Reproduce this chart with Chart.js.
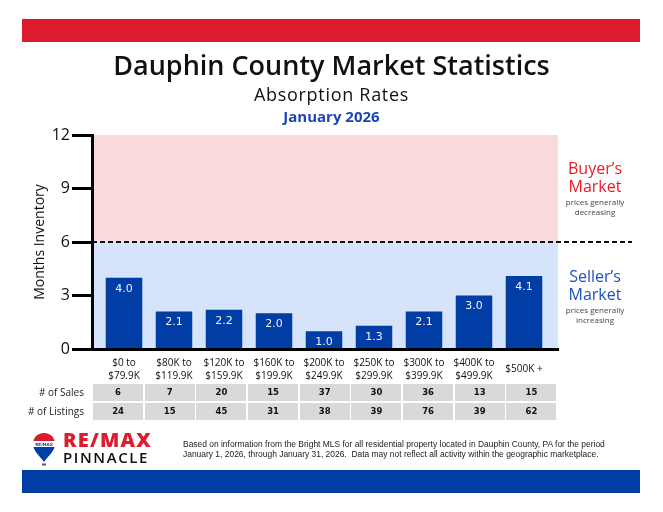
<!DOCTYPE html>
<html>
<head>
<meta charset="utf-8">
<title>Dauphin County Market Statistics</title>
<script src="https://cdn.jsdelivr.net/npm/chart.js@4.4.1/dist/chart.umd.min.js"></script>
<style>
  html, body { margin: 0; padding: 0; background: #fff; }
  #page { position: relative; width: 663px; height: 512px; overflow: hidden; font-family: "Open Sans", sans-serif; color: #111; }
  #page canvas { position: absolute; left: 0; top: 0; }
  .band { position: absolute; left: 22px; width: 618px; height: 23px; }
  .txt { position: absolute; white-space: nowrap; z-index: 2; }
  .center { left: 0; width: 663px; text-align: center; }
  .side { left: 545px; width: 100px; text-align: center; }
  .side .big { font-size: 16px; line-height: 17.5px; }
  .side .small { font-size: 8px; line-height: 10px; color: #444; }
  .rowlabel { left: 0; width: 84px; text-align: right; font-size: 10px; line-height: 17px; color: #222; }
  .cell { position: absolute; height: 17px; line-height: 17px; background: #d9d9d9; text-align: center;
          font-family: "DejaVu Sans", sans-serif; font-weight: bold; font-size: 8.5px; color: #111; z-index: 2; }
</style>
</head>
<body>
<div id="page">
  <canvas id="absorptionChart" width="663" height="512"></canvas>

  <div class="band" style="top:19px;background:#dc1c2e;"></div>
  <div class="band" style="top:470px;background:#003da5;"></div>

  <div class="txt center" style="top:50px;font-size:27px;line-height:30px;font-weight:600;color:#111;">Dauphin County Market Statistics</div>
  <div class="txt center" style="top:83px;font-size:18px;line-height:22px;letter-spacing:0.7px;">Absorption Rates</div>
  <div class="txt center" style="top:107px;font-size:15px;line-height:18px;font-weight:700;color:#1a47b8;">January 2026</div>

  <div class="txt side" style="top:160px;">
    <div class="big" style="color:#ed1c24;">Buyer’s<br>Market</div>
    <div class="small" style="margin-top:2px;">prices generally<br>decreasing</div>
  </div>
  <div class="txt side" style="top:268px;">
    <div class="big" style="color:#1e50c0;">Seller’s<br>Market</div>
    <div class="small" style="margin-top:2px;">prices generally<br>increasing</div>
  </div>

  <div class="txt rowlabel" style="top:384px;"># of Sales</div>
  <div class="txt rowlabel" style="top:403px;"># of Listings</div>
  <div id="table"></div>

  <svg class="txt" style="left:32px;top:432px;" width="24" height="35" viewBox="0 0 24 35">
    <defs>
      <clipPath id="balloon"><path d="M12 1 C5 1 1 6 1 12 C1 19 8 24 12 30 C16 24 23 19 23 12 C23 6 19 1 12 1 Z"/></clipPath>
    </defs>
    <g clip-path="url(#balloon)">
      <rect x="0" y="0" width="24" height="9" fill="#dc1c2e"/>
      <rect x="0" y="9" width="24" height="6" fill="#fff"/>
      <rect x="0" y="15" width="24" height="16" fill="#003da5"/>
    </g>
    <text x="12" y="13.6" font-size="4" font-weight="bold" text-anchor="middle" fill="#003da5" font-family="DejaVu Sans">RE/MAX</text>
    <rect x="10" y="31.5" width="4" height="2" fill="#556"/>
  </svg>
  <div class="txt" style="left:63px;top:430px;font-size:20px;line-height:20px;font-weight:800;color:#dc1c2e;letter-spacing:1.2px;">RE/MAX</div>
  <div class="txt" style="left:63px;top:450px;font-size:15px;line-height:15px;font-weight:600;color:#111;letter-spacing:1.6px;">PINNACLE</div>
  <div class="txt" style="left:183px;top:439px;font-family:'Liberation Sans',sans-serif;font-size:8.45px;line-height:10px;color:#222;">
    Based on information from the Bright MLS for all residential property located in Dauphin County, PA for the period<br>
    January 1, 2026, through January 31, 2026.&nbsp; Data may not reflect all activity within the geographic marketplace.
  </div>
</div>

<script>
// values
const categories = [
  ["$0 to", "$79.9K"],
  ["$80K to", "$119.9K"],
  ["$120K to", "$159.9K"],
  ["$160K to", "$199.9K"],
  ["$200K to", "$249.9K"],
  ["$250K to", "$299.9K"],
  ["$300K to", "$399.9K"],
  ["$400K to", "$499.9K"],
  ["$500K +"]
];
const monthsInventory = [4.0, 2.1, 2.2, 2.0, 1.0, 1.3, 2.1, 3.0, 4.1];
const salesCount = [6, 7, 20, 15, 37, 30, 36, 13, 15];
const listingsCount = [24, 15, 45, 31, 38, 39, 76, 39, 62];
const yTicks = [0, 3, 6, 9, 12];
const marketSplit = 6;

// sales / listings table under the chart
function buildTable() {
  const holder = document.getElementById("table");
  const left = 93, right = 558, colW = (right - left) / categories.length;
  [[salesCount, 384], [listingsCount, 403]].forEach(function (row) {
    row[0].forEach(function (v, i) {
      const cell = document.createElement("div");
      cell.className = "cell";
      cell.style.left = (left + i * colW) + "px";
      cell.style.width = (colW - 1.5) + "px";
      cell.style.top = row[1] + "px";
      cell.textContent = v;
      holder.appendChild(cell);
    });
  });
}
buildTable();

// pink / blue zones, dashed 6 month line and the bar values
const zonesPlugin = {
  id: "zones",
  beforeDraw(chart) {
    const { ctx, chartArea: a, scales: { y } } = chart;
    const top = y.getPixelForValue(y.max);
    const mid = y.getPixelForValue(marketSplit);
    const bottom = y.getPixelForValue(0);
    ctx.save();
    ctx.fillStyle = "#f9d9dc";
    ctx.fillRect(a.left, top, a.width, mid - top);
    ctx.fillStyle = "#d6e4fb";
    ctx.fillRect(a.left, mid, a.width, bottom - mid);
    ctx.restore();
  },
  afterDatasetsDraw(chart) {
    const { ctx, chartArea: a, scales: { y } } = chart;
    const mid = y.getPixelForValue(marketSplit);
    ctx.save();
    ctx.strokeStyle = "#111";
    ctx.lineWidth = 2;
    ctx.setLineDash([5, 3]);
    ctx.beginPath();
    ctx.moveTo(a.left, mid);
    ctx.lineTo(a.right + 74, mid);
    ctx.stroke();
    ctx.setLineDash([]);

    ctx.fillStyle = "#eef2fb";
    ctx.font = "11px 'DejaVu Sans'";
    ctx.textAlign = "center";
    ctx.textBaseline = "middle";
    chart.getDatasetMeta(0).data.forEach(function (bar, i) {
      ctx.fillText(monthsInventory[i].toFixed(1), bar.x, bar.y + 11);
    });
    ctx.restore();
  }
};

const ctx = document.getElementById("absorptionChart");

const data = {
  datasets: [
    {
      label: "Months Inventory",
      data: monthsInventory.map((v, i) => ({ x: i, y: v })),
      backgroundColor: "#003da5",
      borderWidth: 0,
      categoryPercentage: 1,
      barPercentage: 0.73,
    },
  ],
};

const config = {
  type: "bar",
  data: data,
  options: {
    responsive: false,
    animation: false,
    layout: {
      padding: { left: 0, right: 105, top: 135, bottom: 127 },
    },
    scales: {
      x: {
        type: "linear",
        min: -0.64,
        max: 8.68,
        offset: false,
        afterBuildTicks: (s) => { s.ticks = categories.map((c, i) => ({ value: i })); },
        afterFit: (s) => { s.height = 36; },
        grid: { display: false, drawTicks: false },
        border: { display: true, color: "#000", width: 3, z: 1 },
        ticks: {
          autoSkip: false,
          maxRotation: 0,
          minRotation: 0,
          padding: 8,
          color: "#111",
          font: (c) => ({
            family: "'Open Sans'",
            size: 10,
            lineHeight: (categories[c.index] || []).length > 1 ? 1.25 : 2.5,
          }),
          callback: (v) => categories[v],
        },
      },
      y: {
        min: 0,
        max: 12,
        afterBuildTicks: (s) => { s.ticks = yTicks.map((v) => ({ value: v })); },
        afterFit: (s) => { s.width = 92; },
        grid: {
          drawOnChartArea: false,
          drawTicks: true,
          tickLength: 20,
          tickWidth: 3,
          tickColor: "#000",
        },
        border: { display: true, color: "#000", width: 3, z: 1 },
        ticks: {
          padding: 2,
          color: "#111",
          font: { family: "'Open Sans'", size: 16 },
        },
        title: {
          display: true,
          text: "Months Inventory",
          color: "#111",
          font: { family: "'Open Sans'", size: 14 },
          padding: { top: 32, bottom: 0 },
        },
      },
    },
    plugins: {
      legend: { display: false },
      tooltip: { enabled: false },
    },
  },
  plugins: [zonesPlugin],
};

const absorptionChart = new Chart(ctx, config);
</script>
</body>
</html>
